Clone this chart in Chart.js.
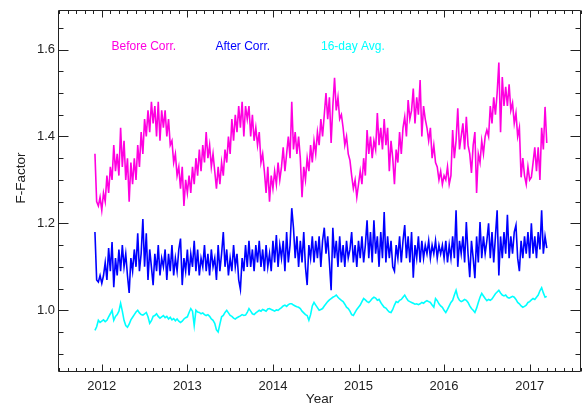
<!DOCTYPE html>
<html>
<head>
<meta charset="utf-8">
<script src="https://cdn.jsdelivr.net/npm/chart.js@4.4.0/dist/chart.umd.min.js"></script>
<style>
  html, body { margin: 0; padding: 0; background: #ffffff; }
  #wrap { width: 584px; height: 405px; }
</style>
</head>
<body>
<div id="wrap"><canvas id="chart" width="584" height="405"></canvas></div>
<script>
// Sampling of the F-factor series: one value every 0.02 year from late 2011
const startYear = 2011.92;
const stepYears = 0.02;

// F-factor before correction (seasonal)
const beforeCorr = [
  1.36, 1.25, 1.24, 1.26, 1.23,
  1.27, 1.25, 1.31, 1.27, 1.33,
  1.30, 1.38, 1.32, 1.36, 1.31,
  1.42, 1.33, 1.39, 1.30, 1.35,
  1.25, 1.34, 1.29, 1.35, 1.30,
  1.38, 1.33, 1.41, 1.36, 1.44,
  1.40, 1.46, 1.41, 1.48, 1.43,
  1.47, 1.40, 1.48, 1.39, 1.46,
  1.42, 1.46, 1.40, 1.44, 1.38,
  1.39, 1.34, 1.36, 1.31, 1.33,
  1.28, 1.33, 1.24, 1.30, 1.27,
  1.31, 1.27, 1.33, 1.29, 1.35,
  1.31, 1.37, 1.32, 1.38, 1.34,
  1.41, 1.35, 1.38, 1.33, 1.36,
  1.32, 1.28, 1.33, 1.29, 1.34,
  1.31, 1.37, 1.34, 1.40, 1.36,
  1.44, 1.39, 1.45, 1.41, 1.47,
  1.42, 1.48, 1.40, 1.47, 1.44,
  1.47, 1.40, 1.45, 1.39, 1.42,
  1.38, 1.41, 1.34, 1.36, 1.32,
  1.27, 1.33, 1.25, 1.31, 1.28,
  1.32, 1.29, 1.34, 1.30, 1.33,
  1.375, 1.32, 1.36, 1.40, 1.35,
  1.48, 1.37, 1.41, 1.36, 1.40,
  1.35, 1.26, 1.33, 1.30, 1.35,
  1.32, 1.38, 1.34, 1.39, 1.36,
  1.41, 1.38, 1.44, 1.40, 1.45,
  1.50, 1.44, 1.49, 1.385, 1.47,
  1.535, 1.46, 1.49, 1.44, 1.45,
  1.42, 1.38, 1.40, 1.36, 1.345,
  1.31, 1.28, 1.30, 1.26, 1.29,
  1.32, 1.29, 1.35, 1.31, 1.415,
  1.36, 1.40, 1.35, 1.39, 1.37,
  1.454, 1.38, 1.42, 1.37, 1.44,
  1.38, 1.42, 1.32, 1.39, 1.35,
  1.29, 1.37, 1.34, 1.41, 1.36,
  1.42, 1.445, 1.40, 1.484, 1.44,
  1.46, 1.51, 1.43, 1.49, 1.45,
  1.53, 1.40, 1.47, 1.44, 1.42,
  1.39, 1.42, 1.35, 1.38, 1.34,
  1.33, 1.30, 1.32, 1.29, 1.31,
  1.30, 1.33, 1.29, 1.31, 1.415,
  1.35, 1.39, 1.465, 1.37, 1.40,
  1.43, 1.37, 1.445, 1.38, 1.36,
  1.316, 1.38, 1.41, 1.27, 1.36,
  1.34, 1.39, 1.36, 1.40, 1.415,
  1.40, 1.47, 1.43, 1.49, 1.45,
  1.50, 1.57, 1.41, 1.537, 1.47,
  1.514, 1.47, 1.52, 1.46, 1.477,
  1.43, 1.454, 1.40, 1.42, 1.306,
  1.35, 1.31, 1.29, 1.33, 1.30,
  1.306, 1.34, 1.375, 1.32, 1.375,
  1.30, 1.42, 1.37, 1.468, 1.385
];

// F-factor after correction
const afterCorr = [
  1.18, 1.07, 1.065, 1.08, 1.062,
  1.08, 1.11, 1.07, 1.143, 1.09,
  1.157, 1.053, 1.12, 1.08, 1.14,
  1.09, 1.15, 1.10, 1.13, 1.08,
  1.04, 1.12, 1.09, 1.14, 1.10,
  1.177, 1.09, 1.13, 1.21, 1.10,
  1.177, 1.07, 1.14, 1.10, 1.058,
  1.13, 1.09, 1.15, 1.08, 1.12,
  1.10, 1.14, 1.07, 1.13, 1.09,
  1.15, 1.08, 1.12, 1.09, 1.14,
  1.165, 1.058, 1.12, 1.09, 1.14,
  1.08, 1.13, 1.10, 1.16, 1.09,
  1.14, 1.08, 1.12, 1.10, 1.15,
  1.09, 1.13, 1.08, 1.14, 1.10,
  1.12, 1.07, 1.15, 1.09, 1.13,
  1.18, 1.10, 1.14, 1.08, 1.12,
  1.09, 1.15, 1.10, 1.13, 1.07,
  1.048, 1.12, 1.09, 1.15, 1.10,
  1.16, 1.10, 1.14, 1.09, 1.15,
  1.11, 1.16, 1.10, 1.14, 1.09,
  1.15, 1.10, 1.13, 1.09, 1.16,
  1.11, 1.173, 1.10, 1.15, 1.12,
  1.16, 1.09, 1.18, 1.11, 1.15,
  1.235, 1.19, 1.12, 1.17, 1.10,
  1.16, 1.11, 1.18, 1.10, 1.058,
  1.15, 1.12, 1.17, 1.11, 1.16,
  1.12, 1.17, 1.10, 1.16, 1.19,
  1.13, 1.17, 1.11, 1.046, 1.19,
  1.12, 1.16, 1.10, 1.17, 1.11,
  1.15, 1.10, 1.16, 1.12, 1.14,
  1.18, 1.11, 1.15, 1.10, 1.16,
  1.12, 1.17, 1.11, 1.15, 1.207,
  1.12, 1.18, 1.11, 1.207, 1.13,
  1.17, 1.10, 1.18, 1.12, 1.226,
  1.11, 1.17, 1.12, 1.16, 1.10,
  1.09, 1.15, 1.12, 1.17, 1.11,
  1.16, 1.196, 1.12, 1.17, 1.11,
  1.18, 1.075, 1.15, 1.12, 1.17,
  1.11, 1.16, 1.12, 1.15, 1.13,
  1.16, 1.12, 1.15, 1.13, 1.16,
  1.12, 1.15, 1.13, 1.15, 1.12,
  1.16, 1.11, 1.15, 1.12, 1.17,
  1.12, 1.23, 1.10, 1.16, 1.13,
  1.17, 1.11, 1.203, 1.13, 1.076,
  1.16, 1.12, 1.074, 1.17, 1.11,
  1.203, 1.12, 1.17, 1.13, 1.16,
  1.20, 1.12, 1.18, 1.11, 1.17,
  1.23, 1.08, 1.17, 1.12, 1.18,
  1.13, 1.22, 1.12, 1.17, 1.13,
  1.18, 1.196, 1.12, 1.09, 1.16,
  1.12, 1.17, 1.13, 1.18, 1.12,
  1.20, 1.13, 1.17, 1.12, 1.18,
  1.14, 1.23, 1.13, 1.17, 1.143
];

// 16-day running average of the corrected F-factor
const avg16day = [
  0.954, 0.962, 0.977, 0.972, 0.975,
  0.978, 0.974, 0.977, 0.985, 0.992,
  1.000, 0.977, 0.986, 0.990, 0.998,
  1.016, 0.998, 0.977, 0.965, 0.961,
  0.968, 0.978, 0.984, 0.990, 0.996,
  1.000, 0.994, 0.990, 0.989, 0.992,
  0.995, 0.985, 0.970, 0.976, 0.986,
  0.988, 0.992, 0.986, 0.982, 0.985,
  0.988, 0.983, 0.986, 0.980, 0.984,
  0.978, 0.981, 0.976, 0.980, 0.975,
  0.972, 0.975, 0.980, 0.983, 0.985,
  0.995, 1.004, 0.998, 0.965, 1.000,
  0.996, 0.995, 0.992, 0.994, 0.990,
  0.988, 0.990, 0.986, 0.980, 0.977,
  0.970, 0.955, 0.950, 0.968, 0.985,
  0.988, 0.995, 1.000, 0.994, 0.988,
  0.986, 0.982, 0.980, 0.983, 0.985,
  0.987, 0.990, 0.988, 0.989, 0.995,
  1.004, 0.998, 0.992, 0.990, 0.994,
  0.997, 1.000, 0.998, 1.002, 1.000,
  0.998, 1.003, 1.004, 1.002, 1.000,
  0.998, 1.001, 1.000, 1.003, 1.006,
  1.010, 1.012, 1.009, 1.013, 1.015,
  1.015, 1.012, 1.010, 1.008, 1.007,
  1.004, 0.998, 0.994, 0.990, 0.988,
  0.977, 0.990, 1.010, 1.018, 1.012,
  1.006, 1.000, 1.002, 1.004, 1.010,
  1.015, 1.020, 1.024, 1.027, 1.030,
  1.032, 1.035, 1.030, 1.026, 1.023,
  1.020, 1.014, 1.007, 1.004, 0.998,
  0.990, 0.988, 0.995, 1.002, 1.007,
  1.012, 1.020, 1.027, 1.024, 1.020,
  1.018, 1.022, 1.027, 1.030, 1.028,
  1.023, 1.025, 1.018, 1.012, 1.007,
  1.005, 1.000, 0.996, 0.995, 1.002,
  1.012, 1.020, 1.018, 1.023, 1.025,
  1.030, 1.035, 1.028, 1.022, 1.020,
  1.018, 1.016, 1.014, 1.015, 1.013,
  1.015, 1.018, 1.016, 1.020, 1.022,
  1.020, 1.018, 1.012, 1.007, 1.027,
  1.022, 1.015, 1.010, 1.007, 1.000,
  0.995, 1.002, 1.010, 1.018, 1.023,
  1.035, 1.046, 1.030, 1.023, 1.020,
  1.022, 1.025, 1.023, 1.018, 1.010,
  1.004, 1.000, 0.995, 1.005, 1.018,
  1.030, 1.039, 1.033, 1.027, 1.022,
  1.025, 1.023, 1.026, 1.032, 1.038,
  1.042, 1.046, 1.040, 1.035, 1.033,
  1.035, 1.030, 1.028, 1.030, 1.032,
  1.030, 1.025, 1.018, 1.015, 1.010,
  1.007, 1.009, 1.012, 1.018, 1.020,
  1.024, 1.027, 1.025, 1.030, 1.035,
  1.045, 1.052, 1.040, 1.030, 1.032
];

const seriesLabels = ['Before Corr.', 'After Corr.', '16-day Avg.'];
const seriesColors = ['#ff00e0', '#0000ff', '#00ffff'];

// Axis ranges and labelled ticks
const xRange = [2011.5, 2017.6];
const yRange = [0.858, 1.691];
const yearTicks = [2012, 2013, 2014, 2015, 2016, 2017];
const factorTicks = [1.0, 1.2, 1.4, 1.6];

const FONT = 'Liberation Sans, Arial, Helvetica, sans-serif';
const INK = '#222222';

function toPoints(values) {
  return values.map((v, i) => ({ x: +(startYear + i * stepYears).toFixed(3), y: v }));
}

// Frame with inward-pointing major/minor ticks on all four sides,
// legend labels in series colours, and axis titles.
const framePlugin = {
  id: 'idlFrame',
  afterDatasetsDraw(chart) {
    const { ctx, chartArea: a, scales } = chart;
    const xs = scales.x, ys = scales.y;
    const L = Math.round(a.left) - 0.5, R = Math.round(a.right) - 0.5;
    const T = Math.round(a.top) + 0.5, B = Math.round(a.bottom) - 0.5;
    ctx.save();
    ctx.strokeStyle = INK;
    ctx.lineWidth = 1;
    ctx.beginPath();
    ctx.rect(L, T, R - L, B - T);
    // x ticks every 0.1 year, major at whole years
    for (let k = Math.ceil(xRange[0] * 10); k <= Math.floor(xRange[1] * 10); k++) {
      const px = Math.round(xs.getPixelForValue(k / 10)) + 0.5;
      const len = (k % 10 === 0) ? 7 : 3.5;
      ctx.moveTo(px, B); ctx.lineTo(px, B - len);
      ctx.moveTo(px, T); ctx.lineTo(px, T + len);
    }
    // y ticks every 0.05, major every 0.2
    for (let k = Math.ceil(yRange[0] * 20); k <= Math.floor(yRange[1] * 20); k++) {
      const py = Math.round(ys.getPixelForValue(k / 20)) + 0.5;
      const len = (k % 4 === 0) ? 10 : 5;
      ctx.moveTo(L, py); ctx.lineTo(L + len, py);
      ctx.moveTo(R, py); ctx.lineTo(R - len, py);
    }
    ctx.stroke();

    // series labels
    const labelX = [111.5, 215.5, 321];
    ctx.font = '12px ' + FONT;
    ctx.textBaseline = 'alphabetic';
    ctx.textAlign = 'left';
    chart.data.datasets.forEach((ds, i) => {
      ctx.fillStyle = ds.borderColor;
      ctx.fillText(ds.label, labelX[i], 50);
    });

    // axis titles
    ctx.fillStyle = INK;
    ctx.font = '13.5px ' + FONT;
    ctx.textAlign = 'center';
    ctx.textBaseline = 'middle';
    ctx.fillText('Year', (a.left + a.right) / 2 - 0.5, 399.5);
    ctx.translate(21, 178);
    ctx.rotate(-Math.PI / 2);
    ctx.fillText('F-Factor', 0, 0);
    ctx.restore();
  }
};

const datasets = [beforeCorr, afterCorr, avg16day].map((vals, i) => ({
  label: seriesLabels[i],
  data: toPoints(vals),
  borderColor: seriesColors[i],
  backgroundColor: seriesColors[i],
  borderWidth: 1.6,
  pointRadius: 0,
  tension: 0,
  fill: false
}));

new Chart(document.getElementById('chart'), {
  type: 'line',
  data: { datasets },
  options: {
    responsive: false,
    animation: false,
    devicePixelRatio: 1,
    layout: { padding: { top: 10, right: 3, left: 0, bottom: 0 } },
    plugins: { legend: { display: false }, tooltip: { enabled: false } },
    scales: {
      x: {
        type: 'linear',
        min: xRange[0], max: xRange[1],
        grid: { display: false, drawTicks: false },
        border: { display: false },
        afterBuildTicks: s => { s.ticks = yearTicks.map(v => ({ value: v })); },
        afterFit: s => { s.height = 33; s.paddingLeft = 0; s.paddingRight = 0; },
        ticks: {
          color: INK,
          font: { family: FONT, size: 13 },
          padding: 7,
          maxRotation: 0,
          callback: v => String(v)
        }
      },
      y: {
        type: 'linear',
        min: yRange[0], max: yRange[1],
        grid: { display: false, drawTicks: false },
        border: { display: false },
        afterBuildTicks: s => { s.ticks = factorTicks.map(v => ({ value: v })); },
        afterFit: s => { s.width = 59; s.paddingTop = 0; s.paddingBottom = 0; },
        ticks: {
          color: INK,
          font: { family: FONT, size: 13 },
          padding: 4,
          callback: v => Number(v).toFixed(1)
        }
      }
    }
  },
  plugins: [framePlugin]
});
</script>
</body>
</html>
